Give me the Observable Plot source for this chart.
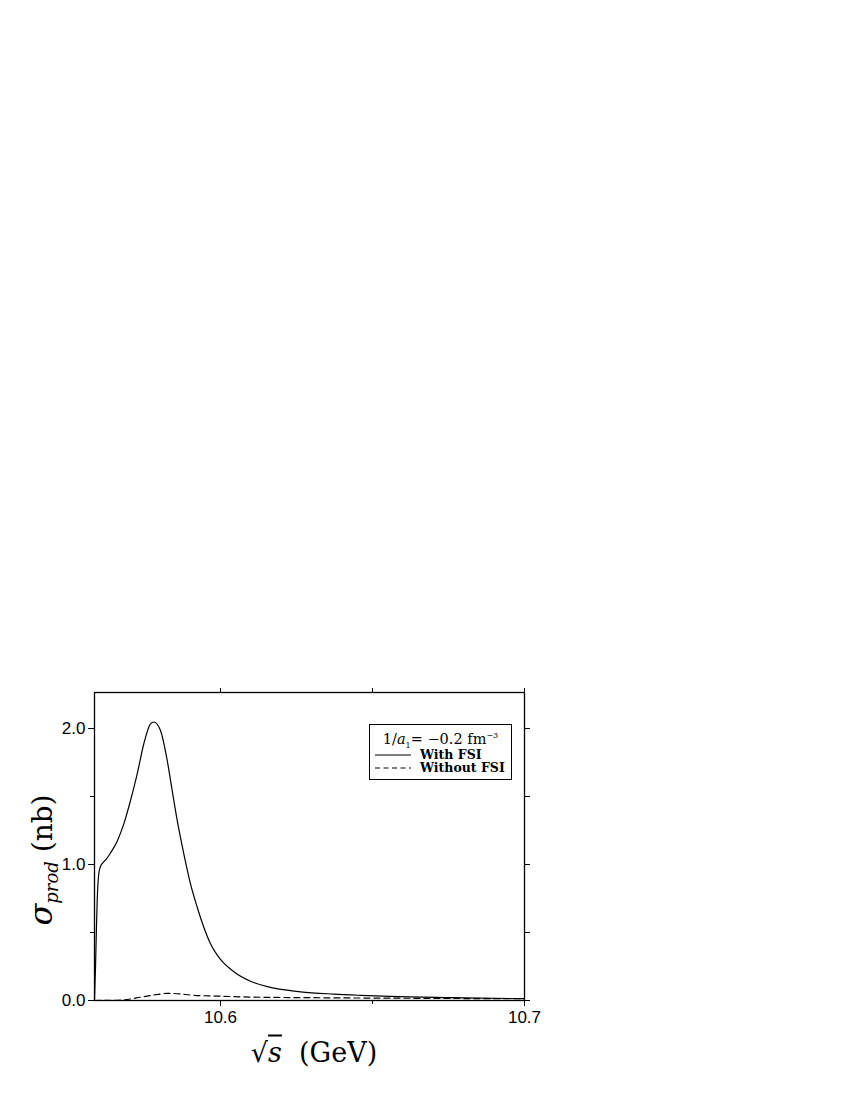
<!DOCTYPE html>
<html>
<head>
<meta charset="utf-8">
<script src="https://cdn.jsdelivr.net/npm/d3@7"></script>
<script src="https://cdn.jsdelivr.net/npm/@observablehq/plot@0.6"></script>
<style>
  body { margin: 0; background: #fff; }
  #wrap { position: relative; width: 850px; height: 1100px; }
  .ov { position: absolute; color: #000; white-space: nowrap; }
</style>
</head>
<body>
<div id="wrap"></div>
<script>
// Series values
const withX = [10.55855, 10.55870, 10.55888, 10.55915, 10.55944, 10.55997, 10.56050, 10.56109, 10.56250, 10.56382, 10.56602, 10.56819, 10.57040, 10.57260, 10.57477, 10.57697, 10.57806, 10.58026, 10.58247, 10.58411, 10.58576, 10.58793, 10.59013, 10.59234, 10.59451, 10.59671, 10.60000, 10.60438, 10.60987, 10.61536, 10.62632, 10.63727, 10.64605, 10.65592, 10.67566, 10.70000];
const withY = [0.000, 0.120, 0.243, 0.500, 0.735, 0.934, 0.985, 1.007, 1.042, 1.085, 1.172, 1.299, 1.471, 1.667, 1.888, 2.034, 2.048, 1.985, 1.765, 1.544, 1.324, 1.079, 0.858, 0.686, 0.539, 0.417, 0.302, 0.212, 0.142, 0.102, 0.064, 0.047, 0.038, 0.030, 0.021, 0.013];
const withoutX = [10.55855, 10.56382, 10.56819, 10.57368, 10.57917, 10.58246, 10.58684, 10.59013, 10.60099, 10.60987, 10.63388, 10.66678, 10.69967, 10.70000];
const withoutY = [0.000, 0.001, 0.005, 0.024, 0.044, 0.053, 0.048, 0.040, 0.031, 0.025, 0.020, 0.016, 0.013, 0.013];
const xMajor = [10.6, 10.7];
const xMinor = [10.65];
const yMajor = [0, 1, 2];
const yMinor = [0.5, 1.5];
const seriesNames = ["With FSI", "Without FSI"];

const withData = withX.map((x, i) => ({x, y: withY[i]}));
const withoutData = withoutX.map((x, i) => ({x, y: withoutY[i]}));

const tickFont = "'Liberation Sans', Arial, sans-serif";
const chart = Plot.plot({
  width: 850,
  height: 1100,
  marginTop: 692,
  marginBottom: 100,
  marginLeft: 94,
  marginRight: 326,
  style: {fontFamily: tickFont, fontSize: "17px", color: "#000", background: "#fff"},
  x: {domain: [10.55855, 10.7]},
  y: {domain: [0, 2.265]},
  marks: [
    Plot.axisX(xMajor, {anchor: "bottom", tickSize: 6, tickPadding: 4, tickFormat: d => d.toFixed(1), label: null, fontSize: 17}),
    Plot.axisX(xMinor, {anchor: "bottom", tickSize: 4, tickFormat: () => "", label: null}),
    Plot.axisX(xMajor.concat(xMinor), {anchor: "top", tickSize: 5, tickFormat: () => "", label: null}),
    Plot.axisY(yMajor, {anchor: "left", tickSize: 6, tickPadding: 3, tickFormat: d => d.toFixed(1), label: null, fontSize: 17}),
    Plot.axisY(yMinor, {anchor: "left", tickSize: 4, tickFormat: () => "", label: null}),
    Plot.axisY(yMajor.concat(yMinor), {anchor: "right", tickSize: 5, tickFormat: () => "", label: null}),
    Plot.frame({stroke: "#000", strokeWidth: 1.3}),
    Plot.line(withData, {x: "x", y: "y", stroke: "#000", strokeWidth: 1.2, curve: "monotone-x"}),
    Plot.line(withoutData, {x: "x", y: "y", stroke: "#000", strokeWidth: 1.2, strokeDasharray: "6,4", curve: "monotone-x"})
  ]
});
const wrap = document.getElementById("wrap");
wrap.appendChild(chart);

const serif = "'DejaVu Serif', 'Liberation Serif', serif";
// Y axis title
const yl = document.createElement("div");
yl.className = "ov";
yl.style.cssText = `left:42px;top:860px;transform:translate(-50%,-50%) rotate(-90deg);font-family:${serif};font-size:28px;`;
yl.innerHTML = `<i style="font-size:32px">σ</i><sub style="font-size:18px;font-style:italic;">prod</sub>&nbsp;(nb)`;
wrap.appendChild(yl);

// X axis title
const xl = document.createElement("div");
xl.className = "ov";
xl.style.cssText = `left:314px;top:1052px;transform:translate(-50%,-50%);font-family:${serif};font-size:27px;`;
xl.innerHTML = `√<span style="text-decoration:overline;font-style:italic;">s</span>&nbsp;&nbsp;(GeV)`;
wrap.appendChild(xl);

// Legend
const lg = document.createElement("div");
lg.className = "ov";
lg.style.cssText = `left:369px;top:724px;width:143px;height:56px;border:1.3px solid #000;box-sizing:border-box;background:#fff;`;
const sample = (dash, top) => `<svg width="36" height="6" style="position:absolute;left:5px;top:${top}px"><line x1="0" y1="3" x2="36" y2="3" stroke="#000" stroke-width="1.2" ${dash ? 'stroke-dasharray="5,3.5"' : ''}/></svg>`;
lg.innerHTML =
  `<div style="position:absolute;left:0;right:0;top:2px;text-align:center;font-family:${serif};font-size:14.5px;line-height:18px;">1/<i>a</i><sub style="font-size:8px">1</sub>= −0.2 fm<sup style="font-size:8px">−3</sup></div>` +
  sample(false, 27) + sample(true, 40) +
  `<div style="position:absolute;left:50px;top:24px;font-family:${serif};font-size:12.5px;font-weight:bold;line-height:12px;">${seriesNames[0]}</div>` +
  `<div style="position:absolute;left:50px;top:37px;font-family:${serif};font-size:12.5px;font-weight:bold;line-height:12px;">${seriesNames[1]}</div>`;
wrap.appendChild(lg);
</script>
</body>
</html>
